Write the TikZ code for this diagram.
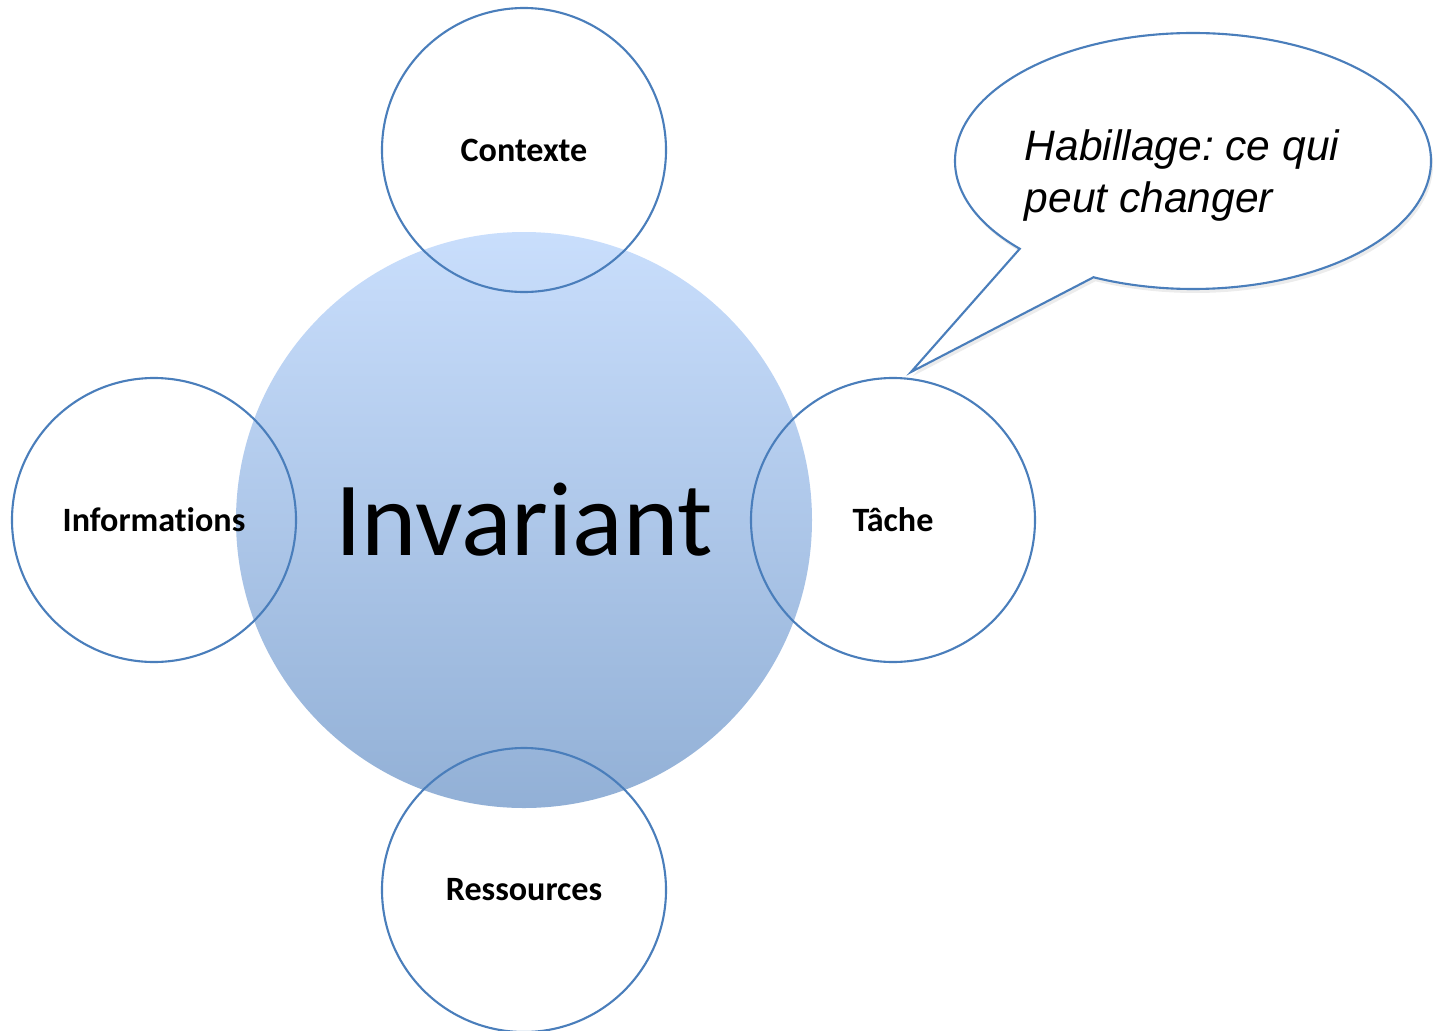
\documentclass[tikz,border=0pt]{standalone}
\usepackage{fontspec}
\setmainfont{Carlito}[Ligatures=NoCommon]
\newfontfamily\arialfont{Liberation Sans}
\usepackage{tikz}
\usetikzlibrary{
	shapes,shapes.callouts,shadows
}
\definecolor{bordbleu}{HTML}{4A7EBB}
\definecolor{bleuhaut}{HTML}{C9DEFC}
\definecolor{bleubas}{HTML}{92B0D6}
\frenchspacing

\begin{document}
\begin{tikzpicture}[
	petit/.style={circle,draw=bordbleu,line width=0.6pt,minimum size=2.84cm,
		font=\fontsize{9.7}{12}\selectfont\bfseries}]
		\useasboundingbox (-5.24,-5.10) rectangle (9.11,5.20);
		%
		\node[circle,minimum size=5.76cm,top color=bleuhaut,bottom color=bleubas,
			font=\fontsize{30}{36}\selectfont] (inv) at (0,0) {Invariant};
		%
		\node[petit] (ctx) at (0,3.70) {Contexte};
		\node[petit] (info) at (-3.70,0) {Informations};
		\node[petit] (tache) at (3.69,0) {Tâche};
		\node[petit] (res) at (0,-3.70) {Ressources};
		%
		\coordinate (pointe) at (3.87,1.48);
		\node[ellipse callout,draw=bordbleu,fill=white,line width=0.6pt,
			minimum width=4.76cm,minimum height=2.56cm,inner sep=0pt,
			callout absolute pointer={(pointe)},callout pointer arc=22,
			drop shadow={opacity=0.15,shadow xshift=0.02cm,shadow yshift=-0.04cm},
			align=left,font=\arialfont\itshape\fontsize{12.1}{14.6}\selectfont]
			(hab) at (6.69,3.59) {\rule{0pt}{0.6cm}Habillage: ce qui\rule{0.22cm}{0pt}\\peut changer};
		\end{tikzpicture}
\end{document}
